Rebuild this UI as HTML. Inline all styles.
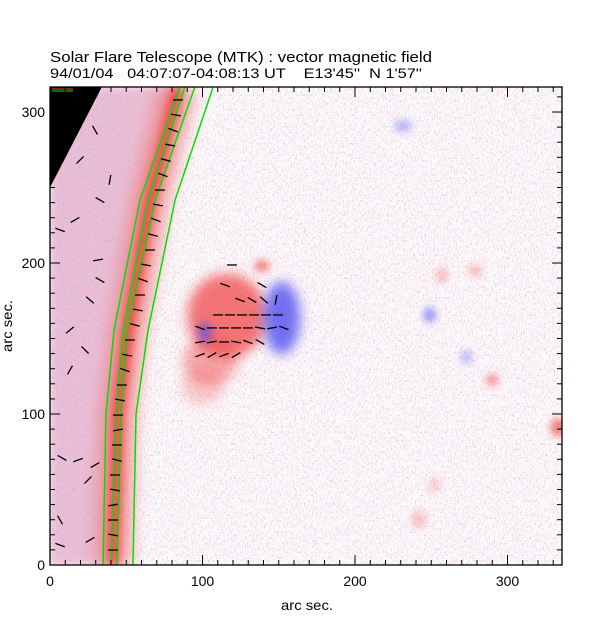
<!DOCTYPE html>
<html><head><meta charset="utf-8"><style>
html,body{margin:0;padding:0;background:#fff;}
svg{display:block;font-family:"Liberation Sans",sans-serif;}
</style></head><body>
<svg id="chart" width="612" height="617" viewBox="0 0 612 617" xmlns="http://www.w3.org/2000/svg">
<defs>
<clipPath id="plotclip"><rect x="50" y="87" width="512" height="478"/></clipPath>
<filter id="blur8" x="-50%" y="-50%" width="200%" height="200%"><feGaussianBlur stdDeviation="8"/></filter>
<filter id="blur4" x="-50%" y="-50%" width="200%" height="200%"><feGaussianBlur stdDeviation="4"/></filter>
<filter id="blur6" x="-50%" y="-50%" width="200%" height="200%"><feGaussianBlur stdDeviation="6"/></filter>
<filter id="noiseR" x="0" y="0" width="100%" height="100%">
<feTurbulence type="fractalNoise" baseFrequency="0.9 0.35" numOctaves="1" seed="3"/>
<feColorMatrix type="matrix" values="0 0 0 0 1  0 0 0 0 0.45  0 0 0 0 0.45  1 0 0 0 0"/>
<feComponentTransfer><feFuncA type="discrete" tableValues="0 0 0 0 0 0.6 0.9 1"/></feComponentTransfer>
</filter>
<filter id="noiseB" x="0" y="0" width="100%" height="100%">
<feTurbulence type="fractalNoise" baseFrequency="0.9 0.35" numOctaves="1" seed="11"/>
<feColorMatrix type="matrix" values="0 0 0 0 0.45  0 0 0 0 0.45  0 0 0 0 1  0 1 0 0 0"/>
<feComponentTransfer><feFuncA type="discrete" tableValues="0 0 0 0 0 0.5 0.9 1"/></feComponentTransfer>
</filter>
</defs>
<text x="50" y="62" font-size="15" textLength="382" lengthAdjust="spacingAndGlyphs" fill="#000">Solar Flare Telescope (MTK) : vector magnetic field</text>
<text x="50" y="78" font-size="14" textLength="372" lengthAdjust="spacingAndGlyphs" fill="#000" xml:space="preserve">94/01/04   04:07:07-04:08:13 UT    E13'45''  N 1'57''</text>
<g id="plot" clip-path="url(#plotclip)"></g>
<g id="axes"></g>
<text x="307" y="610" font-size="14" textLength="52" lengthAdjust="spacingAndGlyphs" text-anchor="middle">arc sec.</text>
<text x="12" y="326" font-size="14" textLength="52" lengthAdjust="spacingAndGlyphs" text-anchor="middle" transform="rotate(-90 12 326)">arc sec.</text>
</svg>
<script>
// ---- data (arcsec) ----
const blobX = [116, 105, 100, 152, 101.6, 139, 231.5, 249, 257, 279, 273, 290, 334, 242, 252];
const blobY = [165, 135, 118, 163.6, 154, 198, 290.7, 165.6, 192, 195, 137.7, 122.5, 91, 30, 53];
const blobRx = [26, 18, 14, 12, 5, 5, 6, 4, 4, 4, 4, 4, 6, 5, 4];
const blobRy = [28, 16, 12, 24, 7, 4, 4, 5, 5, 4, 4, 4, 6, 6, 4];
const blobSign = [1, 1, 1, -1, -1, 1, -1, -1, 1, 1, -1, 1, 1, 1, 1];
const blobStrength = [0.75, 0.45, 0.25, 0.8, 0.6, 0.7, 0.4, 0.6, 0.35, 0.4, 0.4, 0.6, 0.7, 0.3, 0.3];
const bandY = [0, 100, 155.6, 241.7, 316.6];
const bandCenterX = [41.3, 44.6, 51, 65.6, 83.9];
const green1X = [34.8, 36.7, 42, 59, 85.2];
const green2X = [40, 43.3, 47.9, 64.3, 88.5];
const green3X = [43.9, 46.6, 50.5, 68.9, 95];
const green4X = [54.4, 56.4, 64.3, 82, 107];
const vecX = [41.3,41.3,41.3,41.3,42.6,42.6,43.9,43.9,44.6,44.6,45.9,47.2,49.2,50.5,52.5,
 55.7,57.7,59,61,63,65.6,67.5,69.5,70.8,72.1,74,76,78.7,80.7,82.6,83.9,
 7.9,18.4,24.9,6.6,29.5,13.1,26.2,6.6,16.4,32.8,19.7,29.5,9.8,39.3,31.5,32.8,13.1,23,6.6,26.2,
 124.6,132.5,140.3,148.2,110.2,118,125.9,133.8,141.6,149.5,98.4,106.2,114.1,122,129.8,137.7,145.6,153.4,
 98.4,106.2,114.1,122,129.8,137.7,98.4,106.2,114.1,122,119.3,114.8,139];
const vecY = [9.9,19.9,29.8,39.7,49.7,59.6,69.5,79.5,89.4,99.3,109.3,119.2,129.1,139,149,
 159,168.9,178.8,188.7,198.7,208.6,218.5,228.5,238.4,248.3,258.3,268.2,278.1,288,298,308,
 70.9,69.5,56.3,13.2,66.2,129.1,175.5,221.9,228.5,241.7,268.2,288,281.5,255,202,188.7,155.6,142.4,29.8,16.6,
 175.5,175.5,175.5,175.5,165.6,165.6,165.6,165.6,165.6,165.6,157,157,157,157,157,157,157,157,
 147.7,147.7,147.7,147.7,147.7,147.7,139,139,139,139,198.7,185.4,185.4];
const vecAng = [0,-10,0,10,-10,0,-15,0,10,0,-10,0,-20,-10,0,
 -15,-10,0,-20,-10,0,-15,-20,-10,0,-20,-15,-10,-20,-10,0,
 -30,20,45,-20,30,60,-40,-20,30,-30,45,-60,20,80,10,-30,40,-45,-60,30,
 -20,-30,-40,80,0,0,0,0,0,0,-20,0,0,0,0,-10,10,-20,
 10,10,0,-10,-20,-30,20,30,20,30,0,-20,-30];
const xTicks = [0,100,200,300];
const yTicks = [0,100,200,300];

// ---- scales ----
const X0=50, Y0=565, KX=1.525, KY=1.51;
const sx = v => X0 + v*KX;
const sy = v => Y0 - v*KY;
const NS='http://www.w3.org/2000/svg';
const plot=document.getElementById('plot'), axes=document.getElementById('axes');
function mk(tag, attrs, parent){const e=document.createElementNS(NS,tag);for(const k in attrs)e.setAttribute(k,attrs[k]);parent.appendChild(e);return e;}

let bg=mk('rect',{x:50,y:87,width:512,height:478,fill:'#fcf9fb'},plot);


let leftPts=[[0,0]].concat(bandY.map((y,i)=>[bandCenterX[i],y])).concat([[0,316.6]]);
let leftReg=mk('polygon',{points:leftPts.map(p=>sx(p[0])+','+sy(p[1])).join(' '),fill:'#e3a6c4',opacity:0.7,filter:'url(#blur4)'},plot);


let nr=mk('rect',{x:50,y:87,width:512,height:478,fill:'#fff',filter:'url(#noiseR)',opacity:0.7},plot);


let nb=mk('rect',{x:50,y:87,width:512,height:478,fill:'#fff',filter:'url(#noiseB)',opacity:0.6},plot);


let nb2=mk('rect',{x:50,y:87,width:80,height:478,fill:'#fff',filter:'url(#noiseB)',opacity:0.7},plot);


const bandPath=bandY.map((y,i)=>(i?'L':'M')+sx(bandCenterX[i])+','+sy(y)).join(' ');
let bw=mk('path',{d:bandPath,stroke:'#f08080',"stroke-width":36,fill:'none',opacity:0.75,filter:'url(#blur8)'},plot);


let bc=mk('path',{d:bandPath,stroke:'#f04848',"stroke-width":12,fill:'none',opacity:0.9,filter:'url(#blur4)'},plot);


blobX.forEach((x,i)=>{
  const c=blobSign[i]>0?'#f04848':'#5050f0';
  const e=mk('ellipse',{cx:sx(x),cy:sy(blobY[i]),rx:blobRx[i]*KX,ry:blobRy[i]*KY,fill:c,opacity:blobStrength[i],filter:i<4?'url(#blur6)':'url(#blur4)'},plot);
  
  
});
let off=mk('polygon',{points:[sx(0)+','+sy(316.6),sx(34)+','+sy(316.6),sx(0)+','+sy(250)].join(' '),fill:'#000'},plot);


[green1X,green2X,green3X,green4X].forEach((arr,j)=>{
  const d=bandY.map((y,i)=>(i?'L':'M')+sx(arr[i])+','+sy(y)).join(' ');
  const p=mk('path',{d:d,stroke:'#00e000',"stroke-width":1.5,fill:'none'},plot);
  
  
});
const L=5;
vecX.forEach((x,i)=>{
  const a=vecAng[i]*Math.PI/180, cx=sx(x), cy=sy(vecY[i]);
  const dx=L*Math.cos(a), dy=-L*Math.sin(a);
  const v=mk('line',{x1:cx-dx,y1:cy-dy,x2:cx+dx,y2:cy+dy,stroke:'#000',"stroke-width":1.3},plot);
  
  
});
let lr=mk('line',{x1:52,y1:89,x2:73,y2:89,stroke:'#ff4040','stroke-width':1},plot);


let lg=mk('line',{x1:52,y1:91,x2:73,y2:91,stroke:'#00e000','stroke-width':1},plot);


let fr=mk('rect',{x:50,y:87,width:512,height:478,fill:'none',stroke:'#000','stroke-width':1.3},axes);


for(let v=0;v<=336;v+=10){
  const len=(v%100===0)?10:5, px=sx(v);
  const t1=mk('line',{x1:px,y1:565,x2:px,y2:565-len,stroke:'#000'},axes);
  
  
  const t2=mk('line',{x1:px,y1:87,x2:px,y2:87+len,stroke:'#000'},axes);
  
  
}
for(let v=0;v<=316;v+=10){
  const len=(v%100===0)?10:5, py=sy(v);
  const t1=mk('line',{x1:50,y1:py,x2:50+len,y2:py,stroke:'#000'},axes);
  
  
  const t2=mk('line',{x1:562,y1:py,x2:562-len,y2:py,stroke:'#000'},axes);
  
  
}
xTicks.forEach(v=>{
  const t=mk('text',{x:sx(v),y:586,'font-size':14,'text-anchor':'middle'},axes);
  t.textContent=v;
  
  
});
yTicks.forEach(v=>{
  const t=mk('text',{x:45,y:sy(v)+5,'font-size':14,'text-anchor':'end'},axes);
  t.textContent=v;
  
  
});
</script>
</body></html>
